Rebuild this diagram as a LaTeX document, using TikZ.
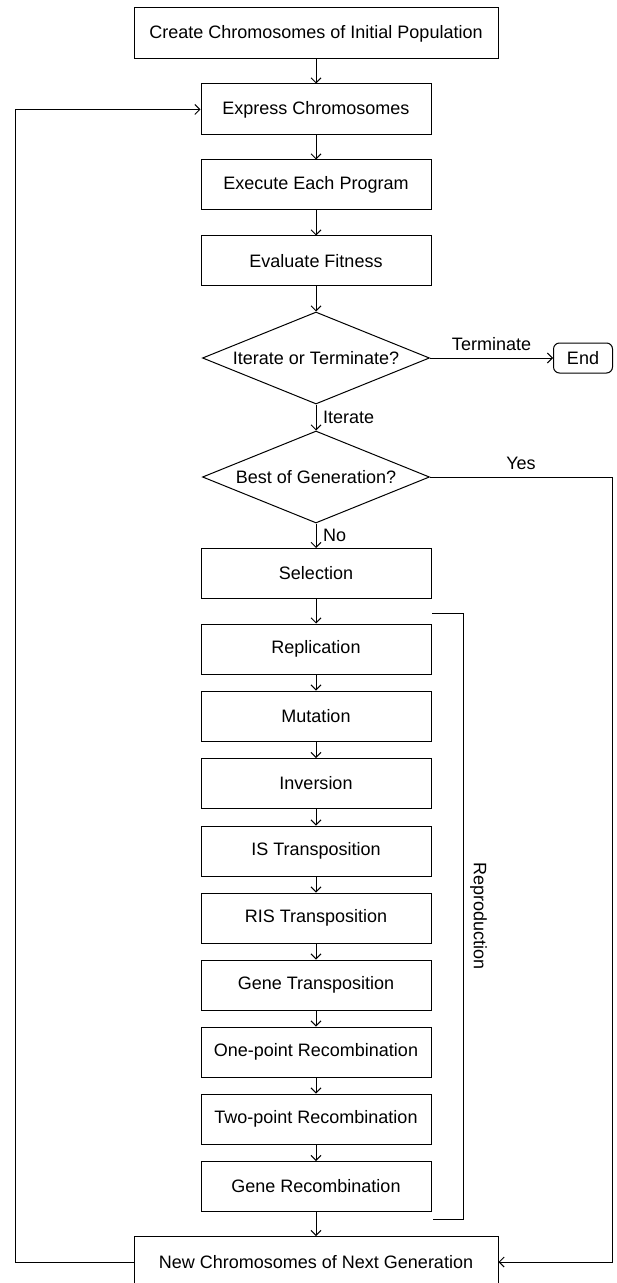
\documentclass[tikz,border=0pt]{standalone}
\usepackage{fontspec}
\setmainfont{Liberation Sans}
\usetikzlibrary{arrows.meta}
\usetikzlibrary{shapes.geometric}
\tikzset{
  procbox/.style={draw, line width=0.5pt, minimum width=115pt, minimum height=25pt, inner sep=0pt},
  widebox/.style={procbox, minimum width=182pt, minimum height=25.5pt},
  decision/.style={draw, diamond, shape aspect=2.5, inner sep=0pt, line width=0.5pt, minimum width=113.5pt, minimum height=46pt},
  endbox/.style={draw, rounded corners=3pt, line width=0.5pt, minimum width=29.5pt, minimum height=15pt, inner sep=0pt},
  flow/.style={line width=0.5pt, -{Straight Barb[length=2.5pt, width=5pt]}},
}

\begin{document}
\begin{tikzpicture}[x=0.5pt, y=-0.5pt, font=\fontsize{9}{11}\selectfont]
    \useasboundingbox (0, 0) rectangle (616, 1283);

    \node [widebox] (create) at (316, 33.5) {Create Chromosomes of Initial Population};
    \node [procbox, minimum height=25.5pt] (express) at (316, 109.5) {Express Chromosomes};
    \node [procbox] (execute) at (316, 185) {Execute Each Program};
    \node [procbox] (evaluate) at (316, 261) {Evaluate Fitness};
    \node [decision] (iterate) at (316, 358) {Iterate or Terminate?};
    \node [endbox] (end) at (583, 358) {End};
    \node [decision] (best) at (316, 477) {Best of Generation?};
    \node [procbox] (selection) at (316, 573.5) {Selection};

    \node [procbox] (replication) at (316, 649) {Replication};
    \node [procbox] (mutation) at (316, 716) {Mutation};
    \node [procbox] (inversion) at (316, 783.5) {Inversion};
    \node [procbox] (istransp) at (316, 851) {IS Transposition};
    \node [procbox] (ristransp) at (316, 918) {RIS Transposition};
    \node [procbox] (genetransp) at (316, 985) {Gene Transposition};
    \node [procbox] (onepoint) at (316, 1052) {One-point Recombination};
    \node [procbox] (twopoint) at (316, 1119) {Two-point Recombination};
    \node [procbox] (generecomb) at (316, 1186.5) {Gene Recombination};

    \node [widebox] (newgen) at (316, 1262) {New Chromosomes of Next Generation};

    \draw [flow] (create) -- (express);
    \draw [flow] (express) -- (execute);
    \draw [flow] (execute) -- (evaluate);
    \draw [flow] (evaluate) -- (iterate);
    \draw [flow] (iterate) -- node [above] {Terminate} (end);
    \draw [flow] (iterate) -- node [right] {Iterate} (best);
    \draw [flow] (best) -- node [right] {No} (selection);
    \draw [flow] (selection) -- (replication);
    \draw [flow] (replication) -- (mutation);
    \draw [flow] (mutation) -- (inversion);
    \draw [flow] (inversion) -- (istransp);
    \draw [flow] (istransp) -- (ristransp);
    \draw [flow] (ristransp) -- (genetransp);
    \draw [flow] (genetransp) -- (onepoint);
    \draw [flow] (onepoint) -- (twopoint);
    \draw [flow] (twopoint) -- (generecomb);
    \draw [flow] (generecomb) -- (newgen);

    \coordinate (yescorner) at (612, 477);
    \draw [flow] (best.east) -- node [above] {Yes} (yescorner) |- (newgen.east);
    \coordinate (loopcorner) at (15, 1262);
    \draw [flow] (newgen.west) -- (loopcorner) |- (express.west);

    \coordinate (reptop) at (432, 613);
    \coordinate (repbottom) at (433, 1219);
    \draw [line width=0.5pt] (reptop) -- ++(31, 0) |- node [pos=0.25, anchor=south, rotate=-90] {Reproduction} (repbottom);
\end{tikzpicture}
\end{document}
